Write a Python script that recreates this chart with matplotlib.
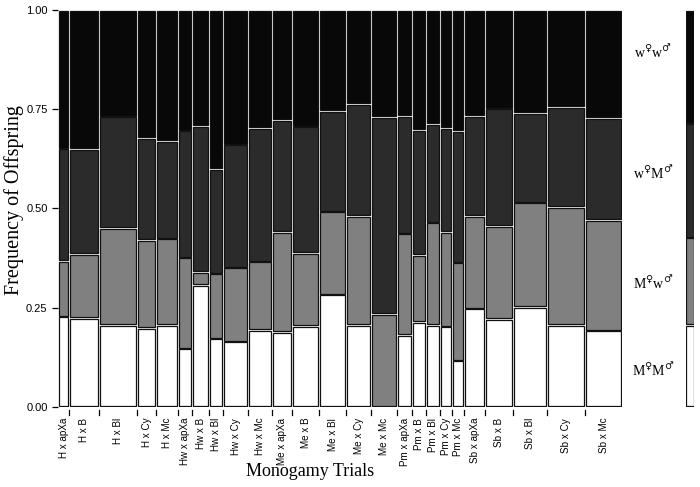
import matplotlib.pyplot as plt
import numpy as np

# Trials (mosaic columns), widths ~ number of offspring scored
trials = ['H x apXa', 'H x B', 'H x Bl', 'H x Cy', 'H x Mc',
          'Hw x apXa', 'Hw x B', 'Hw x Bl', 'Hw x Cy', 'Hw x Mc',
          'Me x apXa', 'Me x B', 'Me x Bl', 'Me x Cy', 'Me x Mc',
          'Pm x apXa', 'Pm x B', 'Pm x Bl', 'Pm x Cy', 'Pm x Mc',
          'Sb x apXa', 'Sb x B', 'Sb x Bl', 'Sb x Cy', 'Sb x Mc']
counts = [11, 30, 38, 19, 22, 14, 17, 14, 25, 24, 20, 27, 27, 25, 26,
          15, 14, 14, 12, 12, 21, 28, 34, 38, 37]

# cumulative boundaries (bottom -> top)
top_MM = [0.227, 0.223, 0.206, 0.198, 0.206, 0.147, 0.307, 0.172, 0.164, 0.193,
          0.189, 0.204, 0.283, 0.206, 0.000, 0.181, 0.214, 0.206, 0.202, 0.116,
          0.248, 0.221, 0.251, 0.206, 0.192]
top_Mw = [0.367, 0.385, 0.451, 0.420, 0.424, 0.376, 0.340, 0.336, 0.351, 0.366,
          0.440, 0.387, 0.492, 0.481, 0.234, 0.437, 0.382, 0.464, 0.441, 0.363,
          0.481, 0.456, 0.515, 0.503, 0.471]
top_wM = [0.651, 0.650, 0.731, 0.678, 0.670, 0.696, 0.708, 0.599, 0.661, 0.702,
          0.723, 0.706, 0.745, 0.763, 0.730, 0.733, 0.698, 0.713, 0.702, 0.695,
          0.733, 0.752, 0.740, 0.756, 0.727]

# overall proportions (right-hand strip)
overall = [0.206, 0.221, 0.287, 0.286]

classes = [r'M$^{♀}$M$^{♂}$', r'M$^{♀}$w$^{♂}$', r'w$^{♀}$M$^{♂}$', r'w$^{♀}$w$^{♂}$']
class_y = [0.092, 0.312, 0.589, 0.892]
colors = ['#ffffff', '#808080', '#2b2b2b', '#080808']

plt.rcParams['mathtext.fontset'] = 'dejavuserif'

fig = plt.figure(figsize=(7, 4.87), dpi=100)
ax = fig.add_axes([0.0829, 0.1649, 0.8057, 0.8146])
for s in ax.spines.values():
    s.set_visible(False)

counts = np.array(counts)
lefts = np.concatenate([[0], np.cumsum(counts)[:-1]])
centers = lefts + counts / 2
bounds = np.vstack([np.zeros(len(counts)), top_MM, top_Mw, top_wM, np.ones(len(counts))])

hgap = 1.5
vgap = 0.004
for k in range(4):
    lo = bounds[k]
    hi = bounds[k + 1]
    h = hi - lo
    keep = h > 0
    ax.bar(lefts[keep] + hgap / 2, h[keep] - vgap, width=counts[keep] - hgap,
           bottom=lo[keep] + vgap / 2, align='edge', color=colors[k],
           edgecolor='#111111', linewidth=0.9)

ax.set_xlim(0, counts.sum())
ax.set_ylim(0, 1)

ax.set_yticks([0, 0.25, 0.5, 0.75, 1.0])
ax.set_yticklabels(['0.00', '0.25', '0.50', '0.75', '1.00'],
                   family='Liberation Sans', fontsize=8)
ax.tick_params(axis='y', length=4, width=0.9, pad=3.5, color='black')
ax.set_xticks(centers)
ax.set_xticklabels(trials, rotation=90, family='Liberation Sans', fontsize=7.1)
ax.tick_params(axis='x', which='major', length=0, pad=8)
# divider marks between trials
for xb in np.cumsum(counts)[:-1]:
    ax.plot([xb, xb], [-0.009, -0.02], color='black', lw=0.9, clip_on=False)

ax.set_ylabel('Frequency of Offspring', family='Liberation Serif', fontsize=14.5, va='center')
ax.set_xlabel('Monogamy Trials', family='Liberation Serif', fontsize=13, va='center')
ax.yaxis.set_label_coords(-0.078, 0.52)
ax.xaxis.set_label_coords(0.447, -0.163)

for lab, yy in zip(classes, class_y):
    ax.text(1.055, yy, lab, transform=ax.get_yaxis_transform(), family='Liberation Serif',
            ha='center', va='center', fontsize=10, clip_on=False)

# marginal strip
ax2 = fig.add_axes([0.98, 0.1649, 0.0114, 0.8146])
cum = np.concatenate([[0], np.cumsum(overall)])
ax2.bar(np.zeros(4), np.array(overall) - vgap, bottom=cum[:-1] + vgap / 2,
        width=1, color=colors, edgecolor='#111111', linewidth=0.9)
ax2.set_xlim(-0.5, 0.5)
ax2.set_ylim(0, 1)
ax2.axis('off')

fig.savefig('out.png', dpi=100)
